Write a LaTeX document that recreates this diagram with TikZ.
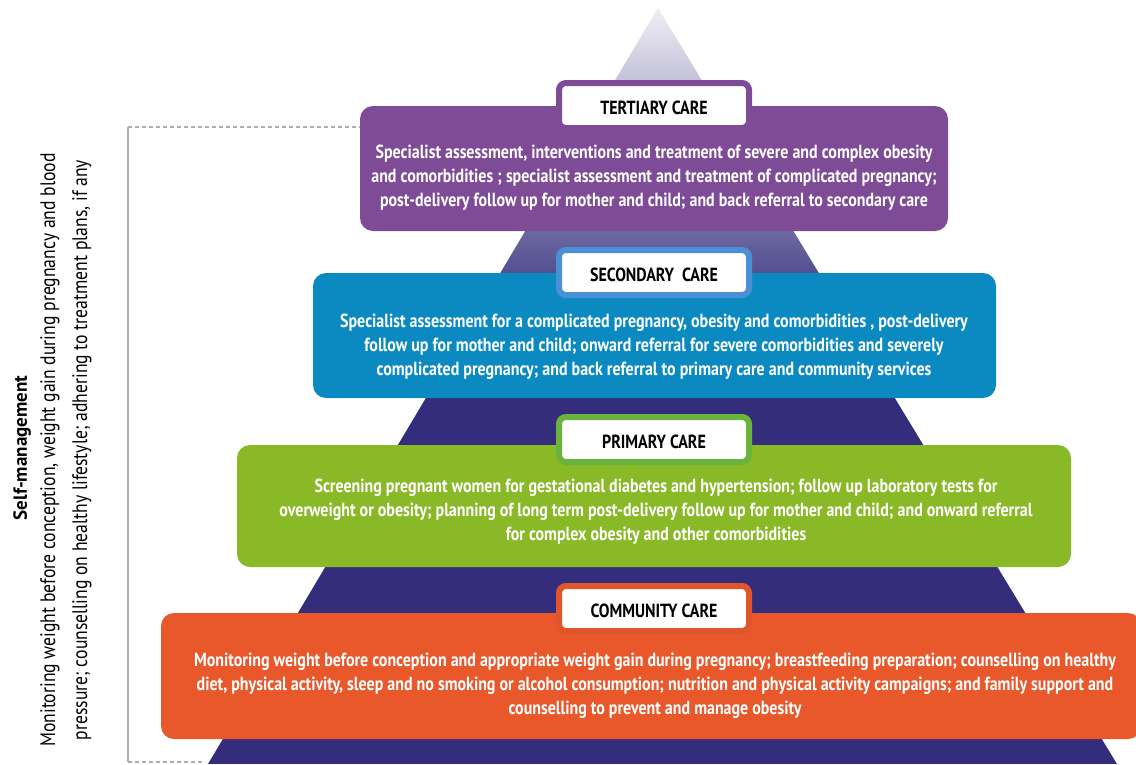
\documentclass[tikz,border=0pt]{standalone}
\usepackage{fontspec}
\setmainfont{PT Sans}[FakeStretch=0.84]
\newfontfamily\widefont{PT Sans}
\definecolor{navy}{HTML}{332D7B}
\definecolor{tercol}{HTML}{7E4B97}
\definecolor{seccol}{HTML}{0B8AC1}
\definecolor{secbord}{HTML}{4A90D4}
\definecolor{pricol}{HTML}{8AB927}
\definecolor{pribord}{HTML}{6AB43E}
\definecolor{comcol}{HTML}{E8582A}
\definecolor{combord}{HTML}{E0562A}
\definecolor{guide}{HTML}{AEAEAE}
\begin{document}
\begin{tikzpicture}[x=1pt,y=-1pt,
  band/.style={rounded corners=13pt, inner sep=0pt},
  bandtext/.style={text=white, align=center, font=\bfseries\fontsize{19}{24}\selectfont},
  tag/.style={draw=#1, fill=white, line width=6pt, rounded corners=7pt, minimum width=190pt, minimum height=45pt, inner sep=0pt, text height=18pt, font=\bfseries\fontsize{19}{22}\selectfont},
  guideline/.style={draw=guide, line width=1.4pt},
  guidedash/.style={draw=guide, line width=1.2pt, dash pattern=on 4pt off 3pt}
]
\useasboundingbox (0,0) rectangle (1136,764);
% pyramid
\begin{scope}
\clip (658,8) -- (1117,764) -- (208,764) -- cycle;
\shade[top color=white!92!navy, middle color=navy!40, bottom color=navy] (0,8) rectangle (1136,330);
\fill[navy] (0,329) rectangle (1136,764);
\end{scope}
% bands
\node[band, fill=tercol, minimum width=588pt, minimum height=125pt] (ter) at (654,168.5) {};
\node[band, fill=seccol, minimum width=683pt, minimum height=125pt] (sec) at (654.5,335.5) {};
\node[band, fill=pricol, minimum width=834pt, minimum height=122pt] (pri) at (654,506) {};
\node[band, fill=comcol, minimum width=980pt, minimum height=126pt] (com) at (651,676) {};
% tags
\node[tag=tercol] (tertag) at (654,105.5) {TERTIARY CARE};
\node[tag=secbord] (sectag) at (654,272.5) {SECONDARY\ \ CARE};
\node[tag=pribord] (pritag) at (654,439.5) {PRIMARY CARE};
\node[tag=combord] (comtag) at (654,608.5) {COMMUNITY CARE};
% band texts
\node[bandtext] (tertxt) at (654,178) {Specialist assessment, interventions and treatment of severe and complex obesity\\and comorbidities ; specialist assessment and treatment of complicated pregnancy;\\post-delivery follow up for mother and child; and back referral to secondary care};
\node[bandtext] (sectxt) at (654,347) {Specialist assessment for a complicated pregnancy, obesity and comorbidities , post-delivery\\follow up for mother and child; onward referral for severe comorbidities and severely\\complicated pregnancy; and back referral to primary care and community services};
\node[bandtext] (pritxt) at (656,512) {Screening pregnant women for gestational diabetes and hypertension; follow up laboratory tests for\\overweight or obesity; planning of long term post-delivery follow up for mother and child; and onward referral\\for complex obesity and other comorbidities};
\node[bandtext] (comtxt) at (655,686) {Monitoring weight before conception and appropriate weight gain during pregnancy; breastfeeding preparation; counselling on healthy\\diet, physical activity, sleep and no smoking or alcohol consumption; nutrition and physical activity campaigns; and family support and\\counselling to prevent and manage obesity};
% self-management guide
\coordinate (gtop) at (128,127);
\coordinate (gbot) at (128,762);
\coordinate (gend) at (205,762);
\draw[guidedash] (gtop) -- (gtop -| ter.west);
\draw[guideline] (gtop) -- (gbot);
\draw[guidedash] (gbot) -- (gend);
% left texts
\node[rotate=90, font=\widefont\bfseries\fontsize{19}{22}\selectfont] (selfhead) at (22,448) {Self-management};
\node[rotate=90, align=center, font=\fontsize{21}{32}\selectfont] (selftxt) at (66,450) {Monitoring weight before conception, weight gain during pregnancy and blood\\pressure; counselling on healthy lifestyle; adhering to treatment plans, if any};
\end{tikzpicture}
\end{document}
